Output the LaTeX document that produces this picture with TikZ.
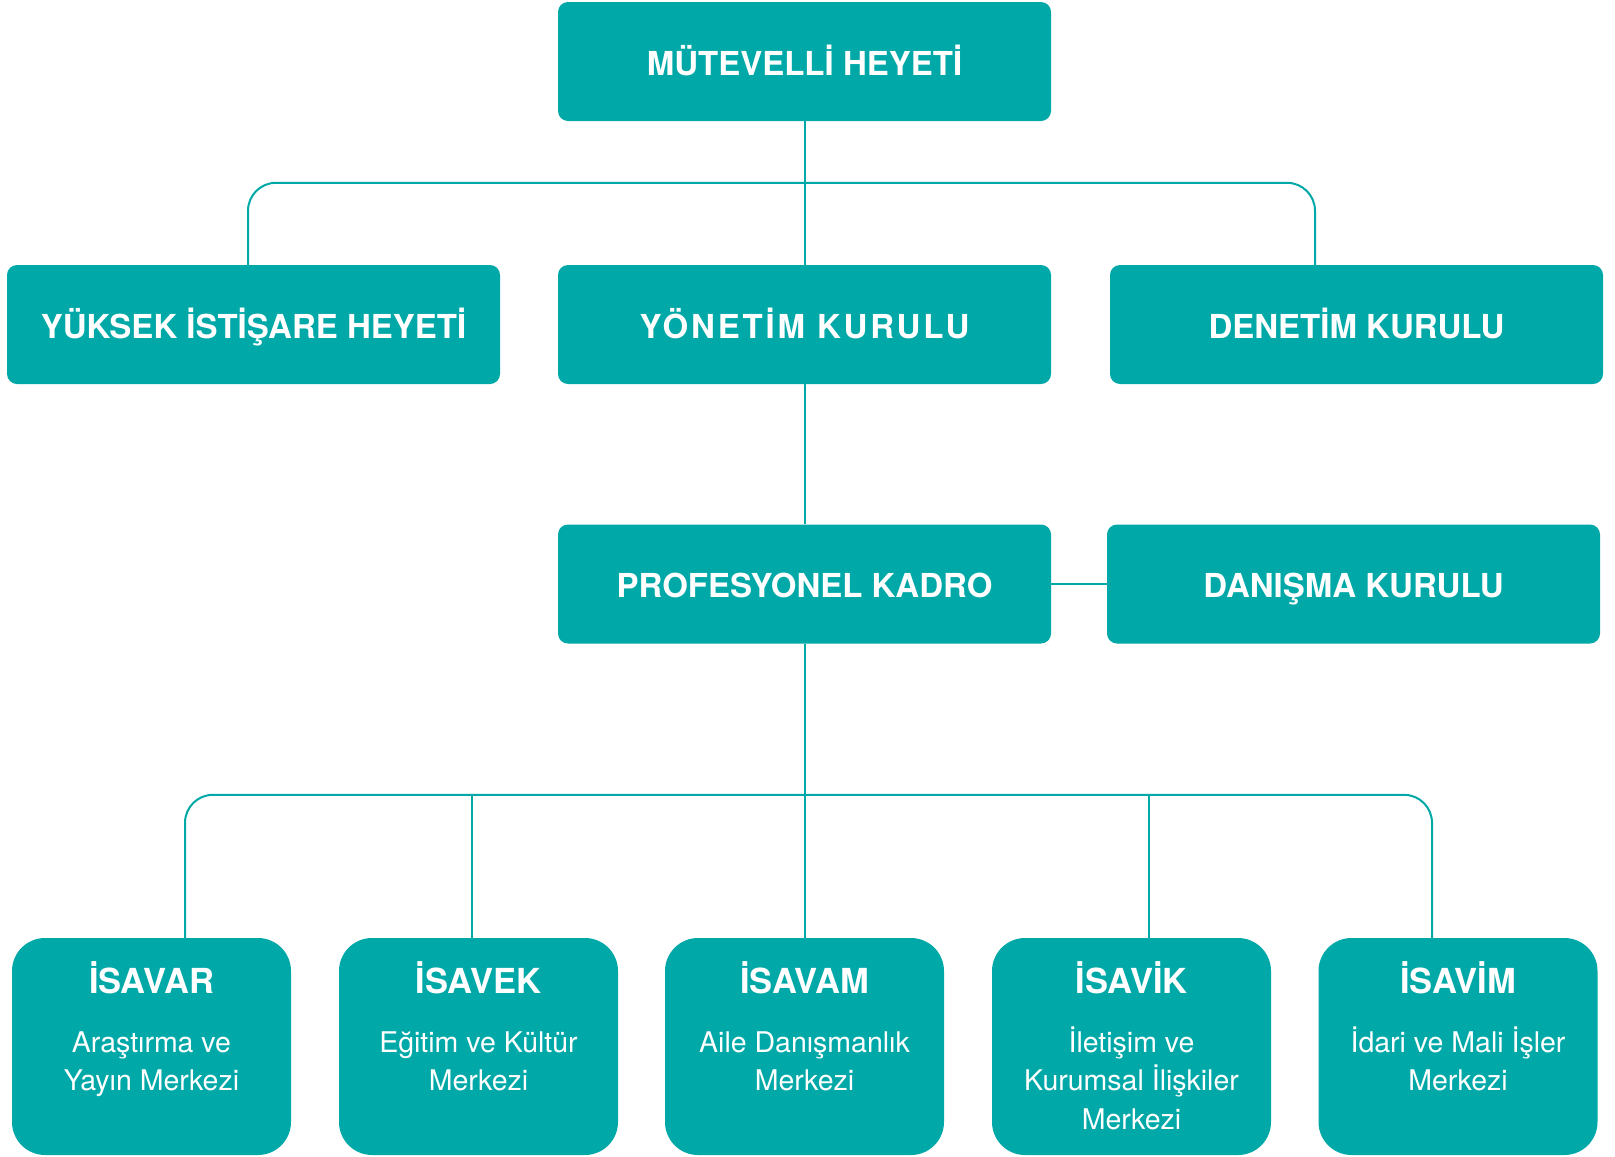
\documentclass[tikz,border=0pt]{standalone}
\usepackage{fontspec}
\setmainfont{TeX Gyre Heros}
\usetikzlibrary{positioning}
\definecolor{isateal}{RGB}{0,168,168}
\tikzset{
  board/.style={fill=isateal, rounded corners=10pt, minimum width=493pt,
    minimum height=119pt, text=white, text height=27.8pt, text depth=0pt,
    font=\fontsize{33}{40}\selectfont\bfseries},
  unit/.style={fill=isateal, rounded corners=33pt, minimum width=279pt,
    minimum height=217pt},
  unittitle/.style={text=white, inner sep=0pt, anchor=base,
    font=\fontsize{34.5}{40}\selectfont\bfseries},
  unittext/.style={text=white, inner sep=0pt, anchor=north, align=center,
    font=\fontsize{28.5}{38.3}\selectfont},
  link/.style={draw=isateal, line width=2pt, rounded corners=28pt},
}
\begin{document}
\begin{tikzpicture}[x=1pt,y=-1pt]
    \useasboundingbox (0,0) rectangle (1615,1157);
    % boards
    \node[board] (mutevelli) at (804.5,61.5) {MÜTEVELLİ HEYETİ};
    \node[board] (yuksek) at (253.5,324.5) {YÜKSEK İSTİŞARE HEYETİ};
    \node[board] (yonetim) at (804.5,324.5) {\addfontfeature{LetterSpace=8.5}YÖNETİM KURULU};
    \node[board] (denetim) at (1356.5,324.5) {DENETİM KURULU};
    \node[board] (profesyonel) at (804.5,584) {PROFESYONEL KADRO};
    \node[board] (danisma) at (1353.5,584) {DANIŞMA KURULU};
    % units
    \node[unit] (isavar) at (151.5,1046.5) {};
    \node[unit] (isavek) at (478.5,1046.5) {};
    \node[unit] (isavam) at (804.5,1046.5) {};
    \node[unit] (isavik) at (1131.5,1046.5) {};
    \node[unit] (isavim) at (1458,1046.5) {};
    \node[unittitle] (isavar-t) at (151.5,993) {İSAVAR};
    \node[unittitle] (isavek-t) at (478.5,993) {İSAVEK};
    \node[unittitle] (isavam-t) at (804.5,993) {İSAVAM};
    \node[unittitle] (isavik-t) at (1131.5,993) {İSAVİK};
    \node[unittitle] (isavim-t) at (1458,993) {İSAVİM};
    \node[unittext] (isavar-s) at (151.5,1025.4) {\strut Araştırma ve\\Yayın Merkezi};
    \node[unittext] (isavek-s) at (478.5,1025.4) {\strut Eğitim ve Kültür\\Merkezi};
    \node[unittext] (isavam-s) at (804.5,1025.4) {\strut Aile Danışmanlık\\Merkezi};
    \node[unittext] (isavik-s) at (1131.5,1025.4) {\strut İletişim ve\\Kurumsal İlişkiler\\Merkezi};
    \node[unittext] (isavim-s) at (1458,1025.4) {\strut İdari ve Mali İşler\\Merkezi};
    % links
    \draw[link] (mutevelli.south) -- (yonetim.north);
    \draw[link] ([xshift=-5.5pt]yuksek.north) -- ++(0,-82) -| ([xshift=-41.5pt]denetim.north);
    \draw[link] (yonetim.south) -- (profesyonel.north);
    \draw[link] (profesyonel.east) -- (danisma.west);
    \draw[link] (profesyonel.south) -- (isavam.north);
    \draw[link] ([xshift=33.5pt]isavar.north) -- ++(0,-143) -| ([xshift=-26pt]isavim.north);
    \draw[link] ([xshift=-6.5pt]isavek.north) -- ++(0,-143);
    \draw[link] ([xshift=17.5pt]isavik.north) -- ++(0,-143);
\end{tikzpicture}
\end{document}
